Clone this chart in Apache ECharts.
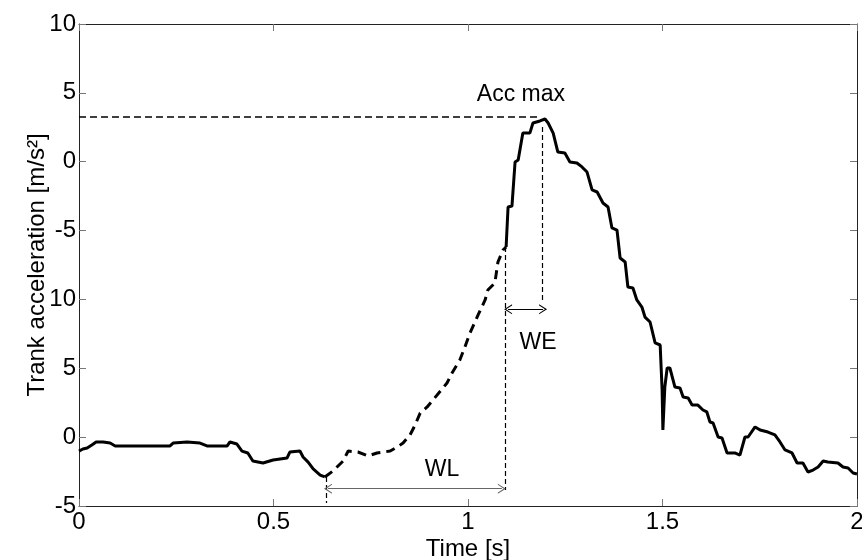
<!DOCTYPE html>
<html>
<head>
<meta charset="utf-8">
<script src="https://cdn.jsdelivr.net/npm/echarts@6/dist/echarts.min.js"></script>
<style>html,body{margin:0;padding:0;background:#fff}#c{width:862px;height:560px}</style>
</head>
<body>
<div id="c"></div>
<script>
// ---- data (time in s, acceleration in axis units) ----
const seg1Time = [0,0.010,0.021,0.033,0.044,0.062,0.080,0.093,0.234,0.242,0.278,0.311,0.329,0.381,0.388,0.406,0.419,0.434,0.447,0.473,0.499,0.535,0.542,0.568,0.576,0.589,0.602,0.620,0.632];
const seg1Acc  = [-1.01,-0.86,-0.79,-0.57,-0.35,-0.35,-0.43,-0.64,-0.64,-0.43,-0.35,-0.43,-0.64,-0.64,-0.35,-0.50,-1.01,-1.15,-1.73,-1.88,-1.66,-1.51,-1.08,-1.01,-1.44,-1.81,-2.31,-2.75,-2.89];
const seg2Time = [0.632,0.653,0.679,0.692,0.717,0.743,0.766,0.800,0.818,0.833,0.851,0.864,0.877,0.895,0.910,0.946,0.959,0.979,0.992,1.005,1.026,1.044,1.051,1.069,1.077,1.090,1.098];
const seg2Acc  = [-2.89,-2.46,-1.73,-1.01,-1.08,-1.37,-1.15,-1.01,-0.72,-0.43,0.16,0.88,1.75,2.19,2.70,3.93,4.66,5.60,6.55,7.56,8.87,9.96,10.68,11.19,12.72,13.59,13.81];
const seg3Time = [1.098,1.103,1.113,1.121,1.129,1.141,1.159,1.167,1.185,1.198,1.206,1.219,1.231,1.249,1.262,1.280,1.293,1.306,1.319,1.332,1.347,1.360,1.370,1.383,1.391,1.404,1.411,1.424,1.434,1.447,1.455,1.468,1.481,1.494,1.499,1.501,1.506,1.512,1.519,1.532,1.545,1.553,1.566,1.576,1.591,1.604,1.614,1.622,1.630,1.643,1.653,1.666,1.686,1.699,1.712,1.720,1.738,1.751,1.771,1.789,1.802,1.815,1.833,1.846,1.861,1.874,1.887,1.900,1.913,1.925,1.951,1.964,1.977,1.990,2.000];
const seg3Acc  = [13.81,16.71,16.78,19.98,20.12,22.08,22.08,22.81,22.96,23.10,22.81,22.08,20.70,20.63,19.98,19.91,19.62,19.25,17.95,17.80,17.00,16.71,15.19,15.04,13.01,12.72,10.90,10.83,9.96,9.45,8.72,8.36,6.84,6.69,3.42,0.52,3.64,5.02,5.02,3.64,3.57,2.91,2.84,2.33,2.33,1.97,1.83,1.10,1.03,0.01,-0.06,-1.15,-1.15,-1.30,0.01,0.01,0.74,0.52,0.37,0.16,-0.35,-0.93,-1.15,-1.88,-1.88,-2.53,-2.39,-2.17,-1.73,-1.81,-1.88,-2.17,-2.24,-2.60,-2.68];

const xTickLabels = ['0','0.5','1','1.5','2'];
const yTickLabels = ['-5','0','5','10','-5','0','5','10'];

// annotation values
const accMaxLevel = 23.27;      // horizontal "Acc max" line
const accMaxLineEnd = 1.18;
const peakTime = 1.19;
const peakTop = 22.52, peakBottom = 9.81;
const wlStartTime = 0.635, wlStartTop = -2.89, wlStartBottom = -4.78;
const weStartTime = 1.096, weTop = 13.81, weBottom = -3.84;
const wlArrow = [0.640, 1.087, -3.74];
const weArrow = [1.103, 1.193, 9.28];
const textLabels = ['Acc max','WE','WL'];
const textTime  = [1.136, 1.18, 0.933];
const textAcc   = [24.84, 6.84, -2.39];

const FONT = 'Liberation Sans';
const zip = (a,b) => a.map((v,i)=>[v,b[i]]);
const chevron = 'path://M0,10 L5,0 L10,10 L8.8,10 L5,2.6 L1.2,10 Z';

const chart = echarts.init(document.getElementById('c'), null, {renderer:'canvas'});

function axisBase(){
  return {
    min: 0, max: 2, interval: 0.5,
    axisLine: {show:true, onZero:false, lineStyle:{color:'#222', width:1}},
    axisTick: {show:true, inside:true, length:7, lineStyle:{color:'#777', width:1}},
    splitLine: {show:false}
  };
}

const option = {
  animation: false,
  backgroundColor: '#fff',
  grid: {left: 79, right: 5, top: 24, bottom: 54, containLabel: false, outerBoundsMode: 'none'},
  xAxis: [
    Object.assign(axisBase(), {
      type:'value', position:'bottom',
      axisLabel:{show:true, margin:4, fontSize:24, fontFamily:FONT, color:'#000',
        formatter:(v)=>xTickLabels[Math.round(v/0.5)]},
      name:'Time [s]', nameLocation:'middle', nameGap:31, nameMoveOverlap:false,
      nameTextStyle:{fontSize:24, fontFamily:FONT, color:'#000'}
    }),
    Object.assign(axisBase(), {type:'value', position:'top', axisLabel:{show:false}})
  ],
  yAxis: [
    {
      type:'value', min:-5, max:30, interval:5, position:'left',
      axisLine:{show:true, onZero:false, lineStyle:{color:'#222', width:1}},
      axisTick:{show:true, inside:true, length:7, lineStyle:{color:'#777', width:1}},
      splitLine:{show:false},
      axisLabel:{show:true, margin:3, fontSize:24, fontFamily:FONT, color:'#000',
        formatter:(v)=>yTickLabels[Math.round((v+5)/5)]},
      name:'Trank acceleration [m/s²]', nameLocation:'middle', nameRotate:90, nameGap:30, nameMoveOverlap:false,
      nameTextStyle:{fontSize:24, fontFamily:FONT, color:'#000'}
    },
    {
      type:'value', min:-5, max:30, interval:5, position:'right',
      axisLine:{show:true, onZero:false, lineStyle:{color:'#222', width:1}},
      axisTick:{show:true, inside:true, length:7, lineStyle:{color:'#777', width:1}},
      splitLine:{show:false},
      axisLabel:{show:false}
    }
  ],
  series: [
    {
      type:'line', data: zip(seg1Time, seg1Acc), showSymbol:false, symbol:'none',
      lineStyle:{color:'#000', width:3}, silent:true
    },
    {
      type:'line', data: zip(seg2Time, seg2Acc), showSymbol:false, symbol:'none',
      lineStyle:{color:'#000', width:3, type:[9,6]}, silent:true
    },
    {
      type:'line', data: zip(seg3Time, seg3Acc), showSymbol:false, symbol:'none',
      lineStyle:{color:'#000', width:3}, silent:true
    },
    {
      type:'line', data: [], silent:true,
      markLine:{
        silent:true, animation:false, label:{show:false}, symbol:['none','none'],
        emphasis:{disabled:true},
        data:[
          [{coord:[0, accMaxLevel], lineStyle:{color:'#000', width:1.6, type:[7,4]}}, {coord:[accMaxLineEnd, accMaxLevel]}],
          [{coord:[peakTime, peakTop], lineStyle:{color:'#000', width:1.2, type:[5,3]}}, {coord:[peakTime, peakBottom]}],
          [{coord:[wlStartTime, wlStartTop], lineStyle:{color:'#000', width:1.2, type:[5,3]}}, {coord:[wlStartTime, wlStartBottom]}],
          [{coord:[weStartTime, weTop], lineStyle:{color:'#000', width:1.2, type:[5,3]}}, {coord:[weStartTime, weBottom]}],
          [{coord:[wlArrow[0], wlArrow[2]], symbol:chevron, symbolSize:[10,8], lineStyle:{color:'#666', width:1.2, type:'solid'}},
           {coord:[wlArrow[1], wlArrow[2]], symbol:chevron, symbolSize:[10,8]}],
          [{coord:[weArrow[0], weArrow[2]], symbol:chevron, symbolSize:[10,8], lineStyle:{color:'#000', width:1, type:'solid'}},
           {coord:[weArrow[1], weArrow[2]], symbol:chevron, symbolSize:[10,8]}]
        ]
      }
    }
  ]
};
chart.setOption(option);

// annotation texts placed through the chart's own coordinate conversion
const texts = textLabels.map((s, i) => {
  const p = chart.convertToPixel({gridIndex: 0}, [textTime[i], textAcc[i]]);
  return {
    type: 'text', x: p[0], y: p[1], silent: true,
    style: {text: s, fill: '#000', font: '23px "Liberation Sans"', align: 'center', verticalAlign: 'middle'}
  };
});
chart.setOption({graphic: {elements: texts}});
</script>
</body>
</html>
